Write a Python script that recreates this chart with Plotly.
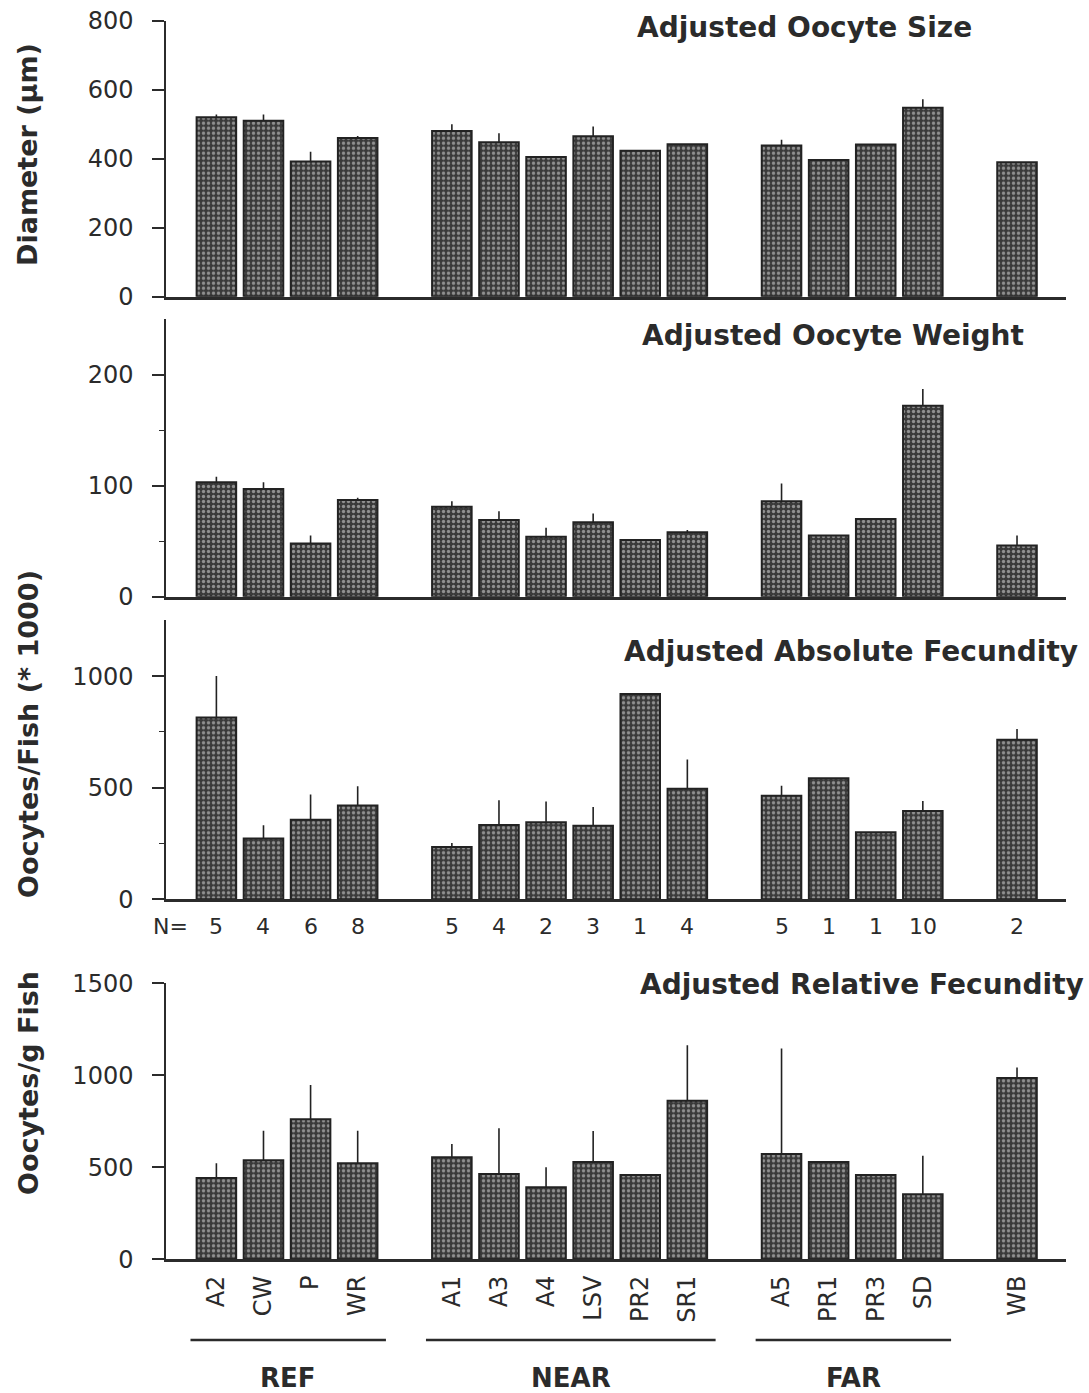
import plotly.graph_objects as go

# Sites grouped by distance class
groups = ["REF", "NEAR", "FAR", ""]
ref_sites = ["A2", "CW", "P", "WR"]
near_sites = ["A1", "A3", "A4", "LSV", "PR2", "SR1"]
far_sites = ["A5", "PR1", "PR3", "SD"]
other_sites = ["WB"]

# Sample sizes per site
n_fish = [5, 4, 6, 8, 5, 4, 2, 3, 1, 4, 5, 1, 1, 10, 2]

# Adjusted oocyte diameter (µm) and SE
diameter = [520, 510, 392, 460, 480, 448, 405, 465, 423, 442, 438, 396, 441, 548, 390]
diameter_err = [8, 18, 28, 6, 20, 26, 0, 28, 0, 0, 17, 0, 0, 24, 0]

# Adjusted oocyte weight and SE
weight = [103, 97, 48, 87, 81, 69, 54, 67, 51, 58, 86, 55, 70, 172, 46]
weight_err = [5, 6, 7, 2, 5, 8, 8, 8, 0, 2, 16, 0, 0, 15, 9]

# Adjusted absolute fecundity (oocytes/fish * 1000) and SE
abs_fec = [814, 272, 356, 420, 234, 333, 345, 330, 920, 495, 464, 542, 300, 396, 715]
abs_fec_err = [186, 60, 114, 86, 18, 111, 93, 83, 0, 131, 45, 0, 0, 44, 48]

# Adjusted relative fecundity (oocytes/g fish) and SE
rel_fec = [442, 538, 761, 522, 554, 464, 391, 529, 458, 862, 572, 529, 458, 353, 986]
rel_fec_err = [80, 161, 186, 177, 73, 248, 109, 168, 0, 301, 573, 0, 0, 210, 57]

panel_titles = ["Adjusted Oocyte Size", "Adjusted Oocyte Weight",
                "Adjusted Absolute Fecundity", "Adjusted Relative Fecundity"]

W, H = 1089, 1393
FONT = "DejaVu Sans"
INK = "#2b2b2b"

# x positions: one empty slot between groups
site_groups = [ref_sites, near_sites, far_sites, other_sites]
sites, positions, spans = [], [], []
pos = 0
for g in site_groups:
    start = pos
    for s in g:
        sites.append(s)
        positions.append(pos)
        pos += 1
    spans.append((start, pos - 1))
    pos += 1

def py(px):
    return 1 - px / H

def pxx(px):
    return px / W

x_range = [-1.07, 18.04]
x_dom = [pxx(166), pxx(1066)]

# (values, errors, y range, major ticks, minor ticks, domain px bottom/top)
panels = [
    (diameter, diameter_err, [0, 800], [0, 200, 400, 600, 800], [], (296.7, 20.7)),
    (weight, weight_err, [0, 250], [0, 100, 200], [50, 150], (596.7, 319.0)),
    (abs_fec, abs_fec_err, [0, 1250], [0, 500, 1000], [250, 750], (899.3, 620.3)),
    (rel_fec, rel_fec_err, [0, 1500], [0, 500, 1000, 1500], [], (1259.3, 983.3)),
]

fig = go.Figure()
layout = dict(
    width=W, height=H,
    margin=dict(l=0, r=0, t=0, b=0, autoexpand=False),
    paper_bgcolor="white", plot_bgcolor="white",
    showlegend=False,
    font=dict(family=FONT, color=INK),
)

for i, (vals, errs, yr, major, minor, (bot, top)) in enumerate(panels, start=1):
    xa = "x" if i == 1 else f"x{i}"
    ya = "y" if i == 1 else f"y{i}"
    fig.add_trace(go.Bar(
        x=positions, y=vals, xaxis=xa, yaxis=ya,
        width=0.84,
        marker=dict(
            color="#3a3a3a",
            line=dict(color="#222222", width=2),
            pattern=dict(shape=".", fgcolor="#e6e6e6", bgcolor="#3a3a3a",
                         size=5, solidity=0.35),
        ),
        error_y=dict(type="data", symmetric=False, array=errs,
                     arrayminus=[0] * len(errs), width=0,
                     thickness=1.6, color="#222222"),
    ))
    xkey = "xaxis" if i == 1 else f"xaxis{i}"
    ykey = "yaxis" if i == 1 else f"yaxis{i}"
    xaxis = dict(
        domain=x_dom, range=x_range, anchor=ya, automargin=False,
        showline=True, linecolor=INK, linewidth=2.5,
        showgrid=False, zeroline=False, ticks="",
        showticklabels=False,
    )
    if i == 4:
        xaxis.update(showticklabels=True, tickmode="array",
                     tickvals=positions, ticktext=sites, tickangle=-90,
                     ticklabelstandoff=4,
                     tickfont=dict(family=FONT, size=24, color=INK))
    layout[xkey] = xaxis
    layout[ykey] = dict(
        domain=[py(bot), py(top)], range=yr, anchor=xa, automargin=False,
        showline=True, linecolor=INK, linewidth=1.5,
        showgrid=False, zeroline=False,
        ticks="outside", ticklen=12, tickwidth=1.5, tickcolor=INK,
        tickmode="array", tickvals=major,
        ticklabelstandoff=14,
        tickfont=dict(family=FONT, size=24, color=INK),
        minor=dict(tickmode="array", tickvals=minor, ticks="outside",
                   ticklen=5, tickwidth=1.2, tickcolor=INK),
    )

fig.update_layout(**layout)

annotations = []
# Panel titles
title_pos = [(635, 28), (640, 336), (622, 651), (638, 984)]
for t, (x0, yc) in zip(panel_titles, title_pos):
    annotations.append(dict(
        text=t, xref="paper", yref="paper", x=pxx(x0), y=py(yc),
        xanchor="left", yanchor="middle", showarrow=False,
        font=dict(family=FONT, size=28, color=INK, weight="bold"),
    ))

# Y axis titles
ytitles = [("Diameter (µm)", 155), ("Oocytes/Fish (* 1000)", 734),
           ("Oocytes/g Fish", 1083)]
for t, yc in ytitles:
    annotations.append(dict(
        text=t, xref="paper", yref="paper", x=pxx(28), y=py(yc),
        xanchor="center", yanchor="middle", textangle=-90, showarrow=False,
        font=dict(family=FONT, size=27, color=INK, weight="bold"),
    ))

# Sample-size row under the third panel
n_y = py(926)
annotations.append(dict(
    text="N=", xref="paper", yref="paper", x=pxx(170), y=n_y,
    xanchor="center", yanchor="middle", showarrow=False,
    font=dict(family=FONT, size=22, color=INK),
))
for p, n in zip(positions, n_fish):
    annotations.append(dict(
        text=str(n), xref="x3", yref="paper", x=p, y=n_y,
        xanchor="center", yanchor="middle", showarrow=False,
        font=dict(family=FONT, size=22, color=INK),
    ))

# Group underlines and labels
shapes = []
for name, (a, b) in zip(groups, spans):
    if not name:
        continue
    x0, x1 = a - 0.55, b + 0.6
    shapes.append(dict(type="line", xref="x4", yref="paper",
                       x0=x0, x1=x1, y0=py(1340), y1=py(1340),
                       line=dict(color=INK, width=2.5)))
    annotations.append(dict(
        text=name, xref="x4", yref="paper", x=(x0 + x1) / 2, y=py(1378),
        xanchor="center", yanchor="middle", showarrow=False,
        font=dict(family=FONT, size=26, color=INK, weight="bold"),
    ))

fig.update_layout(annotations=annotations, shapes=shapes)
fig.write_html("out.html")
